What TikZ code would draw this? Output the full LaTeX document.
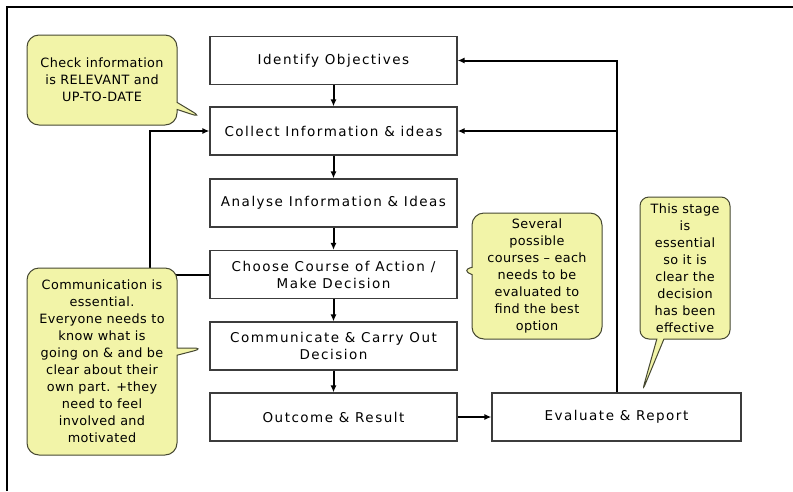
\documentclass[tikz,border=0pt]{standalone}
\usepackage{fontspec}
\setmainfont{DejaVu Sans}
\newfontfamily\stagefont[LetterSpace=11]{DejaVu Sans}
\newfontfamily\notefont[LetterSpace=3]{DejaVu Sans}
\usetikzlibrary{shapes.callouts,arrows.meta}

\definecolor{notefill}{RGB}{242,244,168}
\definecolor{noteline}{RGB}{70,72,50}
\definecolor{boxline}{RGB}{60,60,60}

\tikzset{
  stagebox/.style={draw=boxline,line width=1.2pt,fill=white,minimum width=247pt,minimum height=48pt,
    align=center,font=\stagefont\fontsize{13.5}{17}\selectfont,inner sep=2pt},
  flow/.style={line width=2pt,-{Latex[length=7pt,width=6pt]}},
  note/.style={rectangle callout,rounded corners=12pt,draw=noteline,line width=1pt,fill=notefill,
    align=center,font=\notefont\fontsize{12.8}{17}\selectfont,inner sep=1pt}
}

\begin{document}
\begin{tikzpicture}[x=1pt,y=-1pt]
        \useasboundingbox (0,0) rectangle (793,491);
        \fill[white] (0,0) rectangle (793,491);
        % frame
        \draw[line width=1.5pt] (7,491) -- (7,7) -- (793,7);
        % stages
        \node[stagebox] (ident) at (333.5,60.5) {Identify Objectives};
        \node[stagebox] (coll) at (333.5,131) {Collect Information \& ideas};
        \node[stagebox] (anal) at (333.5,203) {Analyse Information \& Ideas};
        \node[stagebox] (choose) at (333.5,274.5) {Choose Course of Action /\\Make Decision};
        \node[stagebox] (comm) at (333.5,346) {Communicate \& Carry Out\\Decision};
        \node[stagebox] (outc) at (333.5,417) {Outcome \& Result};
        \node[stagebox,minimum width=249pt] (eval) at (616.5,417) {Evaluate \& Report};
        % main flow
        \draw[flow] (ident) -- (coll);
        \draw[flow] (coll) -- (anal);
        \draw[flow] (anal) -- (choose);
        \draw[flow] (choose) -- (comm);
        \draw[flow] (comm) -- (outc);
        \draw[flow] (outc) -- (eval);
        % loops
        \coordinate (loopl) at (150,131);
        \coordinate (loopr) at (617,131);
        \draw[flow] (choose.west) -| (loopl) -- (coll.west);
        \draw[flow] (eval.north) |- (ident.east);
        \draw[flow] (loopr) -- (coll.east);
        % notes
        \coordinate (tipcheck) at (203,118);
        \coordinate (tipcomm) at (205,348);
        \coordinate (tipchoose) at (460,270);
        \coordinate (tipeval) at (642,392);
        \node[note,minimum width=150pt,minimum height=90pt,callout absolute pointer={(tipcheck)}] (checknote) at (102,80)
          {Check information\\is RELEVANT and\\UP-TO-DATE};
        \node[note,minimum width=150pt,minimum height=187pt,callout absolute pointer={(tipcomm)}] (commnote) at (102,361.5)
          {Communication is\\essential.\\Everyone needs to\\know what is\\going on \& and be\\clear about their\\own part. +they\\need to feel\\involved and\\motivated};
        \node[note,minimum width=130pt,minimum height=126pt,callout absolute pointer={(tipchoose)}] (choosenote) at (537,276)
          {Several\\possible\\courses – each\\needs to be\\evaluated to\\find the best\\option};
        \node[note,minimum width=90pt,minimum height=142pt,rounded corners=9pt,callout absolute pointer={(tipeval)}] (evalnote) at (685,268)
          {This stage\\is\\essential\\so it is\\clear the\\decision\\has been\\effective};
      \end{tikzpicture}
\end{document}
